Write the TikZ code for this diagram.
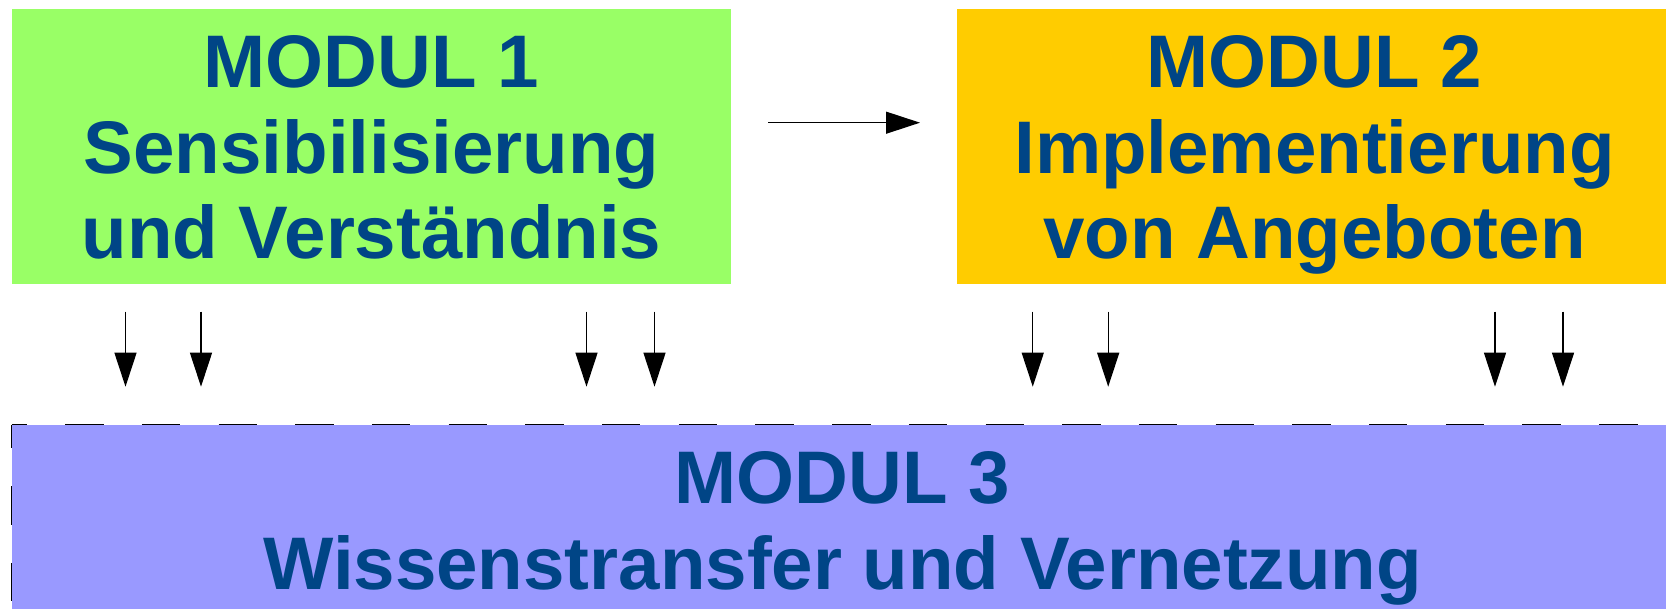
\documentclass[tikz,border=0pt]{standalone}
\usepackage{fontspec}
\setmainfont{Liberation Sans}
\usetikzlibrary{arrows.meta}
\definecolor{mgreen}{HTML}{99FF66}
\definecolor{morange}{HTML}{FFCC00}
\definecolor{mpurple}{HTML}{9999FF}
\definecolor{mtext}{HTML}{004586}
\newcommand\mystrutT{\rule{0pt}{60pt}}
\newcommand\mystrutB{\rule[-20pt]{0pt}{20pt}}
\tikzset{
  modbox/.style={rectangle, inner sep=0pt, draw=none},
  modtext/.style={inner sep=0pt, anchor=north, align=center, text=mtext,
    font=\fontsize{74.5}{85.5}\selectfont\bfseries},
  arr/.style={-{Triangle[length=34pt,width=22pt]}, line width=1.2pt, black},
  dashtop/.style={line width=1.3pt, black, dash pattern=on 38.35pt off 38.35pt, dash phase=23.35pt},
  dashleft/.style={line width=1.3pt, black, dash pattern=on 38.35pt off 38.35pt, dash phase=15.35pt}
}
\begin{document}
\begin{tikzpicture}[x=1pt,y=-1pt]
\useasboundingbox (0,0) rectangle (1666,609);
\node[modbox, fill=mgreen, minimum width=719pt, minimum height=275pt] (m1) at (371.5,146.5) {};
\node[modbox, fill=morange, minimum width=716pt, minimum height=275pt] (m2) at (1315,146.5) {};
\node[modbox, fill=mpurple, minimum width=1661pt, minimum height=220pt] (m3) at (842.5,535) {};
\node[modtext] (t1) at (371.5,27.7) {\mystrutT MODUL 1\\Sensibilisierung\\und Verständnis\mystrutB};
\node[modtext] (t2) at (1314.5,27.7) {\mystrutT MODUL 2\\Implementierung\\von Angeboten\mystrutB};
\node[modtext] (t3) at (842.5,443.3) {\mystrutT MODUL 3\\Wissenstransfer und Vernetzung\mystrutB};
\draw[dashtop] (m3.north west) -- (m3.north east);
\draw[dashleft] (m3.north west) -- (m3.south west);
% horizontal arrow
\coordinate (h1) at (768,122.7);
\coordinate (h2) at (920,122.7);
\draw[arr] (h1) -- (h2);
% vertical arrows
\foreach \n/\x in {a/125.5,b/201,c/586.5,d/654.5,e/1032.75,f/1108.2,g/1495,h/1563}{
  \coordinate (s\n) at (\x,311.7);
  \coordinate (t\n) at (\x,386.7);
  \draw[arr] (s\n) -- (t\n);
}
\end{tikzpicture}
\end{document}
